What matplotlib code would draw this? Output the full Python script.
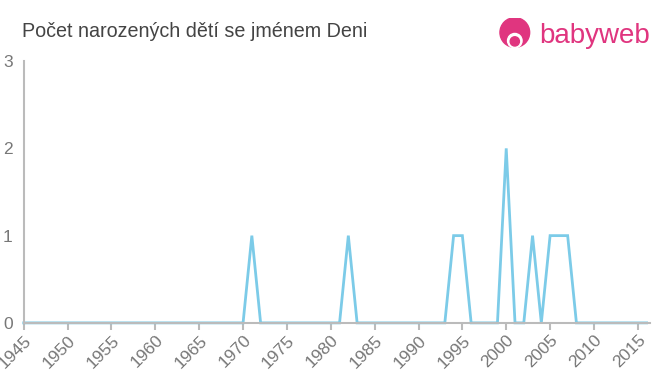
import matplotlib
matplotlib.use("Agg")
import matplotlib.pyplot as plt
from matplotlib.patches import Circle

plt.rcParams["font.family"] = ["Liberation Sans", "DejaVu Sans"]

years = list(range(1945, 2017))
nonzero = {1971: 1, 1982: 1, 1994: 1, 1995: 1, 2000: 2, 2003: 1,
           2005: 1, 2006: 1, 2007: 1}
counts = [nonzero.get(y, 0) for y in years]
xticks = list(range(1945, 2016, 5))
yticks = [0, 1, 2, 3]
title = "Počet narozených dětí se jménem Deni"

fig = plt.figure(figsize=(6.6, 3.75), dpi=100)
ax = fig.add_axes([0.036, 0.139, 0.949, 0.698])
ax.plot(years, counts, color="#7ccbe8", lw=2, solid_joinstyle="miter", clip_on=False, zorder=2)
ax.set_xlim(1945, 2016.4)
ax.set_ylim(0, 3)
ax.set_xticks(xticks)
ax.set_xticklabels([str(x) for x in xticks], rotation=45, ha="right", rotation_mode="anchor")
ax.set_yticks(yticks)
for s in ["top", "right"]:
    ax.spines[s].set_visible(False)
for s in ["left", "bottom"]:
    ax.spines[s].set_color("#bbbbbb")
    ax.spines[s].set_linewidth(1.5)
    ax.spines[s].set_zorder(3)
ax.tick_params(axis="x", colors="#bbbbbb", length=5, width=1.5, labelcolor="#777777", labelsize=12.5, pad=2)
ax.tick_params(axis="y", length=0, labelcolor="#777777", labelsize=12.5, pad=8)

fig.text(0.033, 0.917, title, fontsize=14.2, color="#444444", ha="left", va="center")

# logo
pink = "#e0357f"
fig.text(0.817, 0.903, "babyweb", fontsize=20, color=pink, ha="left", va="center")
logo_ax = fig.add_axes([0.755, 0.865, 0.05, 0.088])
logo_ax.set_xlim(0, 1); logo_ax.set_ylim(0, 1); logo_ax.axis("off")
logo_ax.add_patch(Circle((0.5, 0.55), 0.45, color=pink))
logo_ax.add_patch(Circle((0.5, 0.3), 0.22, color="white"))
logo_ax.add_patch(Circle((0.5, 0.28), 0.14, color=pink))

fig.savefig("out.png", dpi=100)
